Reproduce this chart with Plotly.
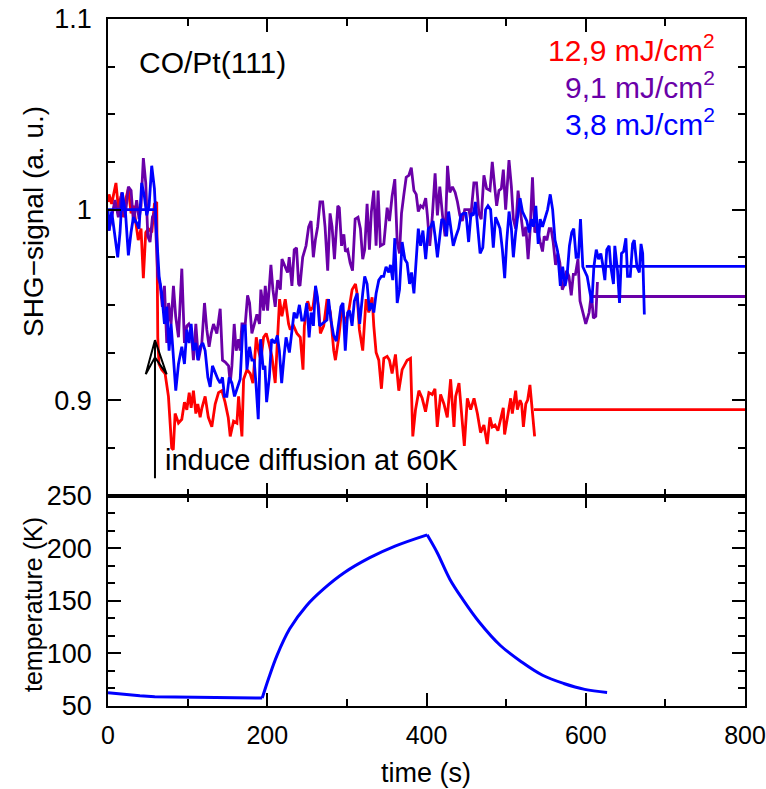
import plotly.graph_objects as go

# ---------------- data ----------------
red_t = [0, 1.3, 4.6, 10, 13, 16.4, 19.3, 22, 25.6, 29, 32, 36, 38, 41.5, 44.4, 47.4, 50.7, 55, 58.3, 61.2,
         62.5, 64, 67.5, 71.7, 75.9, 80, 82, 84.3, 88.5, 92.7, 96, 99, 102, 104.4, 107.3, 110.3, 112.8, 115.7,
         118, 122, 126, 130.4, 134.6, 138.8, 143, 147, 151, 153.5, 157.7, 161.9, 164, 168.2, 170.3, 174.5,
         178.6, 182, 186.2, 189.1, 192, 195.4, 198.7, 202, 205.8, 210, 212.1, 215.5, 218.4, 222.6, 226.8,
         228.9, 233.1, 237.3, 241.5, 244.9, 246.6, 250.8, 254.1, 257.5, 260.4, 264.6, 266.7, 270.9, 275.1,
         279.3, 283.5, 285.6, 289.8, 294, 298.2, 302.4, 306.6, 310.8, 312.8, 315.7, 319.9, 324.1, 327.5,
         331.7, 333.8, 336.7, 340.1, 343.4, 346.4, 350.6, 353.5, 356.8, 361, 365.2, 369.4, 375.7, 379.9,
         382.8, 386.2, 390.4, 394.6, 398.8, 403, 407.2, 410.6, 413.5, 417.7, 421.9, 426.1, 430.3, 434.5,
         436.6, 440.8, 444.2, 447.5, 451.3, 455.5, 459.7, 463.9, 467.9, 472.1, 476.3, 479.7, 482.6, 486,
         489.7, 493.1, 496.4, 498.1, 501.5, 505.7, 507.8, 512, 514.1, 517.5, 519.5, 521.7, 524.7, 527,
         529.9, 532.9, 535.8]
red_v = [1.004, 1.008, 1.003, 1.014, 1.001, 1.007, 0.996, 1.005, 1.011, 0.998, 1.002, 0.990, 0.984, 0.990,
         0.964, 0.988, 0.990, 0.988, 1.003, 1.004,
         0.933, 0.919, 0.916, 0.914, 0.902, 0.875, 0.874, 0.893, 0.888, 0.890, 0.899, 0.895, 0.904, 0.896,
         0.905, 0.893, 0.898, 0.891, 0.896, 0.902, 0.891, 0.886, 0.898, 0.904, 0.905, 0.899, 0.891, 0.881,
         0.889, 0.888, 0.902, 0.881, 0.911, 0.916, 0.914, 0.909, 0.933, 0.926, 0.921, 0.933, 0.935, 0.930,
         0.923, 0.909, 0.926, 0.953, 0.944, 0.953, 0.940, 0.937, 0.939, 0.935, 0.933, 0.916, 0.939, 0.952,
         0.947, 0.949, 0.958, 0.949, 0.935, 0.939, 0.953, 0.946, 0.926, 0.921, 0.933, 0.949, 0.940, 0.947,
         0.958, 0.961, 0.956, 0.937, 0.926, 0.953, 0.946, 0.954, 0.939, 0.925, 0.921, 0.906, 0.922, 0.923,
         0.921, 0.914, 0.924, 0.905, 0.916, 0.921, 0.922, 0.881, 0.895, 0.905, 0.901, 0.894, 0.904, 0.903,
         0.906, 0.886, 0.903, 0.898, 0.891, 0.911, 0.886, 0.902, 0.909, 0.891, 0.876, 0.901, 0.895, 0.901,
         0.893, 0.883, 0.887, 0.877, 0.891, 0.886, 0.887, 0.884, 0.891, 0.896, 0.882, 0.891, 0.901, 0.893,
         0.905, 0.895, 0.900, 0.898, 0.886, 0.898, 0.900, 0.908, 0.895, 0.881]

purple_t = [0, 1.3, 4.6, 8.8, 13, 17.2, 21.4, 25.6, 29, 32, 36, 39, 41.5, 44.4, 47.4, 50, 52.8, 55.8, 59,
            62.5, 65.4, 68.3, 70.9, 73.8, 76, 79.2, 82.2, 85, 88.5, 92.7, 96, 99, 101.5, 104.4, 107.3, 110.3,
            113.6, 117.8, 121.2, 124.1, 127, 129.6, 132.5, 136.7, 140.9, 143.8, 147.2, 151.4, 153.5, 155.6,
            158.5, 161, 164, 166, 168.2, 172.4, 175.3, 177.8, 180.7, 183.6, 187, 190.3, 192, 195.4, 197.5,
            200.4, 204.6, 207.1, 210, 213, 216.4, 218.5, 220.5, 222.6, 225.5, 227.6, 231, 233.9, 236.8,
            239.4, 241.1, 244.5, 248.7, 252, 255, 257.9, 260.4, 263.3, 266.3, 269.6, 272.6, 275.9, 278.9,
            281.4, 284.4, 288.6, 290.5, 293.3, 296.2, 298.2, 301, 304.1, 307.1, 310.4, 314, 317, 319.9,
            322.4, 325.4, 328.3, 330.8, 333.8, 336.7, 339.2, 342.1, 346.4, 350.6, 353.5, 356.8, 360.2,
            363.2, 366.1, 368.6, 371.6, 374.5, 377.9, 380.9, 384.2, 387.1, 389.7, 392.6, 395.5, 399, 401.1,
            404.1, 407.4, 410.8, 413.7, 416.7, 420.1, 423.4, 426.4, 429.3, 432.6, 436, 438.9, 441.9, 445,
            448, 453.2, 455.3, 459.5, 462.8, 465.8, 468.7, 472.1, 475.5, 479.7, 482.6, 485.6, 488.1, 491,
            494, 496.5, 499.4, 503.6, 506.6, 509.1, 512, 515, 518.4, 521.7, 524.7, 527.6, 530.1, 533.1,
            536, 539.4, 542.8, 545.7, 547.8, 551.2, 554.1, 556.5, 559.1, 562.1, 565, 567.5, 570.5, 573.4,
            575.9, 578.9, 581.8, 584.4, 587, 590.2, 592.8, 595.8, 600, 604.2, 607.1, 609.6, 612.6, 614.7]
purple_v = [0.992, 0.989, 0.996, 1.005, 0.996, 1.009, 0.996, 1.012, 1.010, 0.993, 1.005, 0.995, 1.002,
            1.027, 1.014, 0.986, 0.983, 0.996, 0.999,
            0.965, 0.961, 0.949, 0.960, 0.930, 0.951, 0.940, 0.960, 0.944, 0.933, 0.969, 0.930, 0.939,
            0.940, 0.937, 0.921, 0.940, 0.921, 0.930, 0.951, 0.937, 0.928, 0.935, 0.940, 0.935, 0.948,
            0.921, 0.920, 0.918, 0.909, 0.918, 0.940, 0.926, 0.932, 0.926, 0.940, 0.940, 0.955, 0.951,
            0.935, 0.940, 0.945, 0.940, 0.958, 0.947, 0.960, 0.947, 0.971, 0.958, 0.949, 0.963, 0.958,
            0.974, 0.972, 0.969, 0.967, 0.975, 0.960, 0.979, 0.980, 0.961, 0.960, 0.975, 0.981, 0.991,
            0.994, 0.975, 0.984, 0.991, 1.004, 1.004, 0.991, 0.968, 0.998, 0.991, 0.974, 1.002, 1.001,
            0.981, 0.987, 0.978, 0.979, 0.972, 0.968, 0.995, 0.996, 0.990, 0.974, 0.979, 1.003, 0.979,
            0.999, 1.010, 0.981, 1.010, 0.981, 0.982, 1.001, 0.994, 1.007, 1.016, 0.983, 0.977, 0.998,
            1.008, 1.017, 1.018, 1.022, 1.010, 1.008, 0.999, 1.002, 1.001, 1.006, 0.997, 0.981, 0.997,
            1.019, 0.997, 1.012, 0.997, 0.986, 1.023, 1.009, 1.012, 1.009, 1.004, 0.997, 0.994, 1.000,
            1.000, 0.995, 1.014, 1.014, 0.998, 0.995, 1.018, 1.011, 1.010, 1.025, 1.012, 1.002, 1.010,
            1.011, 1.021, 1.000, 1.026, 1.012, 0.995, 0.990, 1.010, 0.997, 0.986, 0.991, 0.974, 0.989,
            1.017, 0.988, 0.990, 0.983, 0.978, 0.986, 0.984, 0.990, 0.990, 0.983, 0.971, 0.977, 0.972,
            0.958, 0.961, 0.968, 0.965, 0.955, 0.966, 0.966, 0.974, 0.952, 0.947, 0.940, 0.946, 0.956,
            0.943, 0.944, 0.962]

blue_t = [0, 1.3, 4.6, 8, 12.2, 15.1, 18, 22.2, 25.6, 28.9, 31.9, 36, 39, 42.3, 45.7, 48.6, 51.6, 54.9,
          58.3, 61.2, 64.2, 67.5, 70.9, 73.8, 76.7, 79.2, 82.2, 85.1, 88.5, 92.7, 96, 99, 101.9, 104.4,
          107.3, 110.3, 112.8, 115.7, 119, 122, 125.4, 128.3, 131.2, 134.6, 138, 140.9, 143.8, 146.3,
          149.3, 152.2, 155.6, 158.9, 162.7, 166, 169.4, 172.4, 174.5, 177.8, 180.7, 183.5, 185.8, 188.7,
          191.6, 195, 197.1, 199.2, 202.6, 205.5, 209.7, 212.7, 215.2, 218.1, 221.1, 223.6, 227.8, 230.8,
          233.7, 237, 240.4, 243.3, 246.3, 249.6, 252.6, 255.1, 258, 260.6, 263.1, 265.7, 268.6, 271.5,
          274.9, 277, 280, 283.3, 286.7, 289.6, 292.5, 295.1, 298, 301, 303.5, 306.5, 309.4, 312.8, 316.1,
          319.9, 322.4, 325.4, 328.3, 330.8, 333.8, 336.7, 340.1, 343.4, 346.3, 349.2, 352.6, 354.7,
          357.6, 360.2, 363.2, 366.1, 369.4, 372.8, 375.7, 378.7, 381.2, 384.2, 387.1, 389.7, 392.6,
          395.5, 399, 402.3, 405.2, 408.2, 410.8, 413.7, 416.7, 419.2, 422.2, 425.2, 427.7, 430.6, 433.6,
          437, 440.3, 443.2, 446.2, 449.6, 452.9, 455.9, 458.8, 461.4, 464.4, 467.3, 470.7, 474.2, 477.2,
          480.5, 483.9, 486.8, 489.8, 492.3, 495.3, 498.2, 500.7, 503.7, 506.6, 509.1, 512, 515, 517.5,
          520.5, 523.4, 526, 528.9, 531.9, 534.4, 537.3, 540.3, 542.8, 545.7, 548.7, 552.1, 555.4, 558.4,
          561.4, 564.7, 568.1, 571, 574, 576.5, 579.5, 582.4, 584.9, 587.9, 590.8, 593.4, 596.3, 599.2,
          601.8, 604.7, 607.7, 610.2, 613.2, 616.1, 618.9, 621, 624, 626.4, 629.4, 631.5, 634.8, 636.5,
          639.9, 642.4, 644.9, 647.5, 650.4, 652.5, 655.9, 658.8, 660.9, 664.3, 667.3, 669.4, 671.5, 673.6]
blue_v = [1.000, 0.989, 0.999, 0.989, 0.975, 0.988, 1.009, 0.997, 0.976, 0.988, 0.996, 0.993, 0.990, 1.014,
          1.007, 0.997, 1.002, 1.023, 1.011, 0.986, 0.965, 0.956, 0.940, 0.949, 0.926, 0.940, 0.919, 0.905,
          0.919, 0.928, 0.919, 0.937, 0.930, 0.940, 0.926, 0.930, 0.921, 0.928, 0.930, 0.926, 0.912, 0.907,
          0.918, 0.914, 0.911, 0.909, 0.912, 0.902, 0.902, 0.912, 0.909, 0.902, 0.907, 0.911, 0.939, 0.939,
          0.916, 0.928, 0.921, 0.921, 0.909, 0.890, 0.932, 0.916, 0.918, 0.899, 0.912, 0.932, 0.930, 0.934,
          0.926, 0.909, 0.923, 0.933, 0.925, 0.935, 0.946, 0.943, 0.950, 0.942, 0.942, 0.951, 0.933, 0.946,
          0.939, 0.960, 0.954, 0.939, 0.940, 0.941, 0.942, 0.953, 0.942, 0.934, 0.931, 0.940, 0.949, 0.951,
          0.926, 0.946, 0.947, 0.939, 0.952, 0.956, 0.940, 0.956, 0.965, 0.961, 0.947, 0.951, 0.946, 0.956,
          0.963, 0.965, 0.965, 0.970, 0.967, 0.971, 0.963, 0.985, 0.951, 0.958, 0.983, 0.974, 0.972, 0.961,
          0.967, 0.956, 0.974, 0.990, 0.981, 0.989, 0.974, 0.990, 0.991, 0.994, 0.986, 0.975, 0.986, 0.995,
          0.994, 0.986, 0.999, 0.990, 0.981, 0.986, 0.990, 0.997, 0.998, 0.998, 0.983, 0.998, 0.997, 1.004,
          0.988, 0.977, 0.980, 1.000, 1.002, 1.000, 0.980, 0.996, 0.993, 0.990, 0.979, 0.964, 0.983, 0.999,
          0.990, 0.975, 0.988, 0.997, 1.006, 0.999, 0.996, 0.994, 0.988, 0.995, 0.991, 1.002, 0.982, 0.995,
          0.991, 0.995, 1.000, 1.008, 1.000, 0.984, 0.978, 0.960, 0.970, 0.960, 0.965, 0.981, 0.988, 0.990,
          0.975, 0.975, 0.995, 0.970, 0.967, 0.965, 0.958, 0.951, 0.970, 0.979, 0.974, 0.977, 0.972, 0.963,
          0.979, 0.981, 0.970, 0.961, 0.981, 0.968, 0.951, 0.977, 0.978, 0.985, 0.965, 0.965, 0.982, 0.984,
          0.970, 0.967, 0.982, 0.977, 0.945]

# reference / final levels (time span, level)
blue_ref_t = [0, 61]
blue_ref_v = [1.0, 1.0]
blue_level_t = [600, 800]
blue_level_v = [0.9702, 0.9702]
purple_level_t = [609, 800]
purple_level_v = [0.9544, 0.9544]
red_level_t = [535, 800]
red_level_v = [0.8951, 0.8951]

# temperature ramp (hold, heating, cooling)
temp_hold_t = [0, 20, 40, 58.7, 100, 150, 193.7]
temp_hold_K = [62.6, 61.0, 59.8, 58.9, 58.3, 57.9, 57.6]
temp_heat_t = [193.7, 201.7, 212.3, 228.2, 249.3, 270.5, 297, 328.8, 360.5, 400.8]
temp_heat_K = [57.6, 76.1, 98.1, 123.3, 145.3, 161.0, 176.8, 190.9, 201.9, 212.6]
temp_cool_t = [400.8, 413.5, 429.3, 445.3, 466.4, 492.8, 519.4, 545.8, 572.3, 598.7, 626.8]
temp_cool_K = [212.6, 195.6, 170.5, 151.6, 129.6, 107.5, 91.9, 79.2, 71.4, 65.8, 62.9]

labels = ["12,9 mJ/cm<sup>2</sup>", "9,1 mJ/cm<sup>2</sup>", "3,8 mJ/cm<sup>2</sup>"]
x_ticks = [0, 200, 400, 600, 800]
y1_ticks = [0.9, 1.0, 1.1]
y1_ticktext = ["0.9", "1", "1.1"]
y1_unlabeled_ticks = [0.85, 0.95, 1.05]
y2_ticks = [50, 100, 150, 200, 250]

# arrow "induce diffusion" (time, signal)
arrow_shaft_t = [59, 59]
arrow_shaft_v = [0.859, 0.9315]
arrow_head_t = [47.4, 59, 73.7, 59, 47.4]
arrow_head_v = [0.9136, 0.9315, 0.9136, 0.9225, 0.9136]

RED = "#ff0000"
PURPLE = "#6a00a8"
BLUE = "#0000ff"
FONT = "Liberation Sans"

fig = go.Figure()

def line(x, y, color, xa="x", ya="y", w=2.8, shape="linear"):
    fig.add_trace(go.Scatter(x=x, y=y, mode="lines", xaxis=xa, yaxis=ya,
                             line=dict(color=color, width=w, shape=shape), hoverinfo="skip"))

line(red_t, red_v, RED)
line(red_level_t, red_level_v, RED)
line(purple_t, purple_v, PURPLE)
line(purple_level_t, purple_level_v, PURPLE)
line(blue_t, blue_v, BLUE)
line(blue_ref_t, blue_ref_v, BLUE)
line(blue_level_t, blue_level_v, BLUE)
line(arrow_shaft_t, arrow_shaft_v, "black", w=2)
line(arrow_head_t, arrow_head_v, "black", w=2)
line(temp_hold_t, temp_hold_K, BLUE, xa="x2", ya="y2", w=3)
line(temp_heat_t, temp_heat_K, BLUE, xa="x2", ya="y2", w=3, shape="spline")
line(temp_cool_t, temp_cool_K, BLUE, xa="x2", ya="y2", w=3, shape="spline")

split = 210.5 / 687

axis_common = dict(showline=True, linecolor="black", linewidth=1.5, mirror="ticks", ticks="inside",
                   tickcolor="black", tickwidth=1.5, ticklen=13, showgrid=False, zeroline=False,
                   automargin=False, ticklabeloverflow="allow")

minor_x = dict(dtick=100, tick0=0, ticks="inside", ticklen=7, tickcolor="black", tickwidth=1.5)
yfont = dict(family=FONT, size=27, color="black")
xfont = dict(family=FONT, size=25, color="black")

fig.update_layout(
    width=766, height=789,
    margin=dict(l=108, r=21, t=19, b=83),
    plot_bgcolor="white", paper_bgcolor="white",
    showlegend=False,
    font=dict(family=FONT, size=27, color="black"),
    xaxis=dict(domain=[0, 1], anchor="y", range=[0, 800], tickmode="array", tickvals=x_ticks,
               showticklabels=False, minor=minor_x, **axis_common),
    yaxis=dict(domain=[split, 1], anchor="x", range=[0.85, 1.1], tickmode="array", tickvals=y1_ticks,
               ticktext=y1_ticktext, ticklabelstandoff=9, tickfont=yfont,
               minor=dict(tickmode="linear", dtick=0.025, tick0=0.85, ticks="inside", ticklen=7,
                          tickcolor="black", tickwidth=1.5),
               **axis_common),
    yaxis3=dict(domain=[split, 1], anchor="x", overlaying="y", range=[0.85, 1.1], tickmode="array",
                tickvals=y1_unlabeled_ticks, showticklabels=False, showline=False, mirror="ticks",
                ticks="inside", tickcolor="black", tickwidth=1.5, ticklen=13, showgrid=False,
                zeroline=False, automargin=False),
    xaxis2=dict(domain=[0, 1], anchor="y2", range=[0, 800], matches="x", tickmode="array",
                tickvals=x_ticks, ticklabelstandoff=6, tickfont=xfont, minor=minor_x, **axis_common),
    yaxis2=dict(domain=[0, split], anchor="x2", range=[50, 250], tickmode="array", tickvals=y2_ticks,
                ticklabelstandoff=9, tickfont=yfont,
                minor=dict(tickmode="linear", dtick=50 / 3, tick0=50, ticks="inside", ticklen=7,
                           tickcolor="black", tickwidth=1.5),
                **axis_common),
)

ann = []
ann.append(dict(text="CO/Pt(111)", x=36.4, y=1.0772, xref="x", yref="y", xanchor="left", yanchor="middle",
                showarrow=False, font=dict(family=FONT, size=30, color="black")))
for txt, col, yv in zip(labels, [RED, PURPLE, BLUE], [1.0846, 1.0652, 1.0458]):
    ann.append(dict(text=txt, x=765, y=yv, xref="x", yref="y", xanchor="right", yanchor="middle",
                    showarrow=False, font=dict(family=FONT, size=30, color=col)))
ann.append(dict(text="induce diffusion at 60K", x=69.1, y=0.8685, xref="x", yref="y", xanchor="left",
                yanchor="middle", showarrow=False, font=dict(family=FONT, size=29, color="black")))
ann.append(dict(text="SHG−signal (a. u.)", x=-0.1177, y=0.7045, xref="paper", yref="paper",
                xanchor="center", yanchor="middle", textangle=-90, showarrow=False,
                font=dict(family=FONT, size=28, color="black")))
ann.append(dict(text="temperature (K)", x=-0.1177, y=0.147, xref="paper", yref="paper",
                xanchor="center", yanchor="middle", textangle=-90, showarrow=False,
                font=dict(family=FONT, size=25, color="black")))
ann.append(dict(text="time (s)", x=0.4992, y=-0.0975, xref="paper", yref="paper",
                xanchor="center", yanchor="middle", showarrow=False,
                font=dict(family=FONT, size=27, color="black")))
fig.update_layout(annotations=ann)

fig.write_html("out.html")
